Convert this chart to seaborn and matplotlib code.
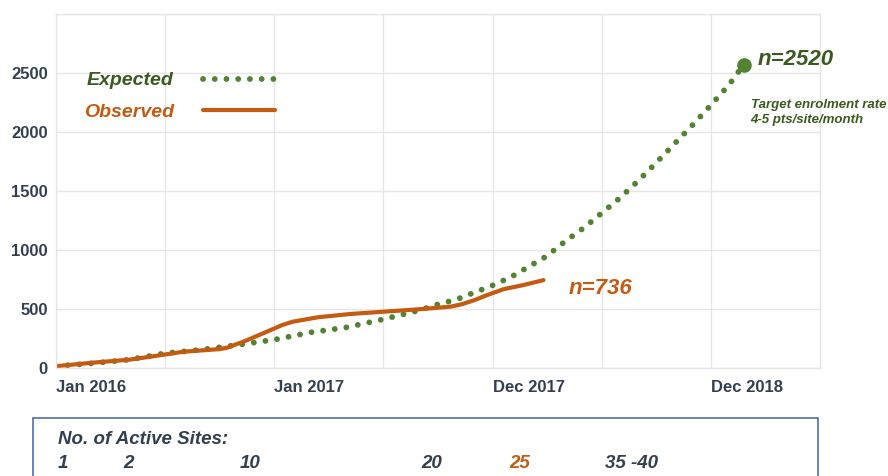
import matplotlib
matplotlib.use('Agg')
import matplotlib.pyplot as plt
from matplotlib.lines import Line2D
from matplotlib.patches import Rectangle
import matplotlib.transforms as mtransforms
import pandas as pd
import seaborn as sns

# months since Jan 2016
expected_months = [0, 2, 4, 6, 8, 10, 12, 14, 16, 18, 20, 21, 22, 23, 24, 25,
                   26, 27, 28, 29, 30, 31, 32, 33, 34, 35, 36, 37, 37.8]
expected_values = [15, 40, 70, 125, 155, 196, 240, 302, 345, 413, 490, 540, 580,
                   640, 700, 770, 860, 950, 1075, 1186, 1313, 1441, 1585, 1740,
                   1900, 2060, 2228, 2400, 2570]
observed_months = [0, 2, 4, 5.2, 7, 9, 9.4, 10.3, 11.6, 12.4, 13, 14.4, 16.2, 18,
                   19.9, 21.7, 22.3, 23, 23.6, 24.6, 25.7, 26.8]
observed_values = [15, 45, 70, 96, 138, 160, 172, 223, 308, 362, 392, 430, 458,
                   477, 497, 520, 540, 575, 612, 668, 703, 745]
expected_total = 2520
observed_total = 736

x_ticks = [0, 6, 12, 18, 24, 30, 36, 42]
x_labels = ['Jan 2016', '', 'Jan 2017', '', 'Dec 2017', '', 'Dec 2018', '']
y_ticks = [0, 500, 1000, 1500, 2000, 2500, 3000]
y_labels = ['0', '500', '1000', '1500', '2000', '2500', '']

site_counts = ['1', '2', '10', '20', '25', '35 -40']
site_months = [0.1, 3.7, 10.1, 20.1, 24.9, 30.2]

GREEN = '#548235'
DARK_GREEN = '#3b5a1f'
ORANGE = '#c55a11'
SLATE = '#333f50'
DOTS = (0, (0.01, 2.0))

sns.set_theme(style='whitegrid')
plt.rcParams['font.family'] = ['Liberation Sans', 'DejaVu Sans']

fig = plt.figure(figsize=(8.88, 4.76), dpi=100)
ax = fig.add_axes([56 / 888, 108 / 476, 764 / 888, 354 / 476])

exp_df = pd.DataFrame({'month': expected_months, 'enrolled': expected_values})
obs_df = pd.DataFrame({'month': observed_months, 'enrolled': observed_values})

sns.lineplot(data=exp_df, x='month', y='enrolled', ax=ax, color=GREEN,
             linewidth=4.2, linestyle=DOTS, dash_capstyle='round')
sns.lineplot(data=obs_df, x='month', y='enrolled', ax=ax, color=ORANGE,
             linewidth=3.0, solid_capstyle='round', solid_joinstyle='round')
ax.plot(expected_months[-1], expected_values[-1], 'o', color=GREEN,
        markersize=9.5, zorder=5)

ax.set_xlim(0, 42)
ax.set_ylim(0, 3000)
ax.set_xticks(x_ticks)
ax.set_xticklabels(x_labels, ha='left')
ax.set_yticks(y_ticks)
ax.set_yticklabels(y_labels)
ax.set_xlabel('')
ax.set_ylabel('')
ax.grid(True, color='#e6e6e6', linewidth=1.0)
for s in ax.spines.values():
	s.set_color('#e6e6e6')
	s.set_linewidth(1.0)
ax.tick_params(axis='x', length=0, pad=9, labelsize=12, labelcolor=SLATE)
ax.tick_params(axis='y', length=0, pad=6, labelsize=12, labelcolor=SLATE)
for lab in ax.get_xticklabels() + ax.get_yticklabels():
	lab.set_fontweight('bold')

# legend: text first, sample after
handles = [
	Line2D([], [], color=GREEN, linewidth=4.2, linestyle=DOTS,
	       dash_capstyle='round'),
	Line2D([], [], color=ORANGE, linewidth=3.0),
]
leg = ax.legend(handles, ['Expected', 'Observed'], loc='upper left',
                bbox_to_anchor=(20 / 764, 1 - 50 / 354), markerfirst=False,
                frameon=False, handlelength=3.7, handletextpad=1.5,
                labelspacing=0.7, borderaxespad=0, alignment='left',
                prop={'size': 14, 'weight': 'bold', 'style': 'italic'})
for txt, c in zip(leg.get_texts(), [DARK_GREEN, ORANGE]):
	txt.set_color(c)

ax.annotate(f'n={expected_total}', (expected_months[-1], expected_values[-1]),
            xytext=(10, 4), textcoords='offset points', ha='left', va='center',
            fontsize=16, fontweight='bold', fontstyle='italic', color=DARK_GREEN)
ax.annotate('Target enrolment rate\n4-5 pts/site/month',
            (expected_months[-1], expected_values[-1]),
            xytext=(5, -34.5), textcoords='offset points', ha='left', va='center',
            fontsize=9.5, fontweight='bold', fontstyle='italic', color=DARK_GREEN,
            linespacing=1.3, annotation_clip=False)
ax.annotate(f'n={observed_total}', (observed_months[-1], observed_values[-1]),
            xytext=(18, -6), textcoords='offset points', ha='left', va='center',
            fontsize=16, fontweight='bold', fontstyle='italic', color=ORANGE)

# active sites box
fig.patches.append(Rectangle((33 / 888, -0.05), 785 / 888, 58 / 476 + 0.05,
                             transform=fig.transFigure, fill=False,
                             edgecolor='#4f6fad', linewidth=1.2, clip_on=False))
fig.text(58 / 888, 37 / 476, 'No. of Active Sites:', ha='left', va='center',
         fontsize=13.5, fontweight='bold', fontstyle='italic', color=SLATE)
blend = mtransforms.blended_transform_factory(ax.transData, fig.transFigure)
for m, lab in zip(site_months, site_counts):
	fig.text(m, 13 / 476, lab, transform=blend, ha='left', va='center',
	         fontsize=13.5, fontweight='bold', fontstyle='italic',
	         color=ORANGE if lab == '25' else SLATE)

fig.savefig('out.png', dpi=100)
